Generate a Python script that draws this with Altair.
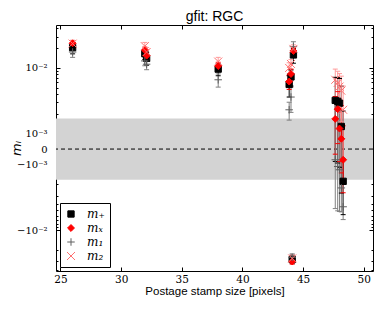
import math
import altair as alt
import pandas as pd

# ---- data ----
x_pos = [26.0, 31.95, 32.1, 38.0, 44.2, 44.0, 43.85, 44.1, 47.65, 47.85, 48.0, 48.15, 48.3]
m_plus = [0.0204, 0.0165, 0.0140, 0.0096, 0.0158, 0.0073, 0.0056, -0.028, 0.0032, 0.0031, 0.0029, 0.00128, -0.0018]
m_plus_err = [0.004, 0.003, 0.003, 0.002, 0.004, 0.002, 0.002, 0.004, 0.004, 0.004, 0.004, 0.004, 0.004]
m_cross = [0.0238, 0.0188, 0.0154, 0.0107, 0.0182, 0.0081, 0.0062, -0.030, 0.00167, 0.00235, 0.00119, 0.00066, -0.00069]
m_cross_err = [0.002, 0.002, 0.002, 0.0015, 0.002, 0.0015, 0.0015, 0.003, 0.002, 0.002, 0.002, 0.002, 0.002]
m_1 = [0.0175, 0.0128, 0.0114, 0.0066, 0.0211, 0.0036, 0.0023, -0.026, -0.00069, -0.00107, -0.0012, -0.00227, -0.0044]
m_1_err = [0.003, 0.002, 0.002, 0.0015, 0.004, 0.0015, 0.0007, 0.003, 0.004, 0.004, 0.004, 0.003, 0.0025]
m_2 = [0.0235, 0.0215, 0.0175, 0.0125, 0.0195, 0.0115, 0.0100, -0.027, 0.0066, 0.0059, 0.0052, 0.0045, 0.0023]
m_2_err = [0.003, 0.003, 0.003, 0.002, 0.003, 0.002, 0.002, 0.003, 0.003, 0.003, 0.003, 0.003, 0.003]

series_names = ["m₊", "mₓ", "m₁", "m₂"]
band_half = 0.0017
x_ticks = [25, 30, 35, 40, 45, 50]

# symlog parameters (matplotlib-like, linthresh 1e-3)
L = 1e-3
S = 0.237


def symlog_expr(field):
    a = f"abs({field})"
    return (f"({field} < 0 ? -1 : 1) * ({a} <= {L} ? {a} / {L} * {S} : "
            f"{S} + log({a} / {L}) / LN10)")


rows = []
for name, vals, errs in zip(series_names, [m_plus, m_cross, m_1, m_2],
                            [m_plus_err, m_cross_err, m_1_err, m_2_err]):
    for xv, v, e in zip(x_pos, vals, errs):
        rows.append({"series": name, "sb": name, "x": xv, "v": v, "lo": v - e, "hi": v + e})
df = pd.DataFrame(rows)

band_df = pd.DataFrame({"b0": [-band_half], "b1": [band_half], "z": [0.0]})

W, H = 317, 246
X_DOM = [24.63, 50.76]
Y_DOM = [-1.86, 1.892]
xs = alt.Scale(domain=X_DOM, nice=False, zero=False)
ys = alt.Scale(domain=Y_DOM, nice=False, zero=False)

major_T = [-(S + 1), -S, 0, S, S + 1]
minor_T = []
for k in range(2, 10):
    minor_T += [S + math.log10(k), -(S + math.log10(k))]
for k in range(2, 5):
    minor_T += [S + 1 + math.log10(k), -(S + 1 + math.log10(k))]

label_expr = ("datum.value > 1 ? '10⁻²' : datum.value > 0.1 ? '10⁻³' : "
              "datum.value > -0.1 ? '0' : datum.value > -1 ? '−10⁻³' : '−10⁻²'")

serif = "DejaVu Serif"
sans = "Liberation Sans"

# band with labelled axes
band = alt.Chart(band_df).transform_calculate(
    T0=symlog_expr("datum.b0"), T1=symlog_expr("datum.b1"),
    xa=str(X_DOM[0]), xb=str(X_DOM[1])
).mark_rect(color="#d3d3d3").encode(
    x=alt.X("xa:Q", scale=xs, axis=alt.Axis(values=x_ticks, ticks=False, domain=False, grid=False,
                                              labelFont=serif, labelFontSize=10.5, labelPadding=3,
                                              title="Postage stamp size [pixels]", titleFont=sans,
                                              titleFontSize=11.5, titleFontWeight="normal",
                                              titleY=20, titleBaseline="middle")),
    x2=alt.X2("xb:Q"),
    y=alt.Y("T0:Q", scale=ys, axis=alt.Axis(values=major_T, labelExpr=label_expr, ticks=False,
                                             domain=False, grid=False, labelFont=serif, labelFontSize=10,
                                             labelPadding=9, title="mᵢ", titleFont="DejaVu Sans",
                                             titleFontStyle="italic", titleFontSize=13,
                                             titleFontWeight="normal", titleAngle=-90,
                                             titleX=-40, titleY=H / 2, titleAlign="center",
                                             titleBaseline="middle")),
    y2="T1:Q",
)

# zero dashed line, carries inward major ticks on the left
zero = alt.Chart(band_df).transform_calculate(T=symlog_expr("datum.z")).mark_rule(
    color="black", strokeDash=[4, 3], strokeWidth=1
).encode(
    y=alt.Y("T:Q", scale=ys, axis=alt.Axis(values=major_T, labels=False, tickSize=4, offset=-4,
                                            domain=False, grid=False, title=None, orient="left",
                                            tickColor="black")),
)


def tick_layer(orient_y, orient_x, yvals, size, xvals=None):
    enc = dict(
        y=alt.Y("T:Q", scale=ys, axis=alt.Axis(values=yvals, labels=False, tickSize=size, offset=-size,
                                                domain=False, grid=False, title=None, orient=orient_y,
                                                tickColor="black")),
    )
    if xvals is not None:
        enc["x"] = alt.X("xa:Q", scale=xs, axis=alt.Axis(values=xvals, labels=False, tickSize=4, offset=-4,
                                                          domain=False, grid=False, title=None,
                                                          orient=orient_x, tickColor="black"))
    return alt.Chart(band_df).transform_calculate(T=symlog_expr("datum.z"), xa="-100").mark_point(
        opacity=0).encode(**enc)


t_bottom = tick_layer("right", "bottom", major_T, 4, x_ticks)
t_top = tick_layer("left", "top", minor_T, 2, x_ticks)
t_right_minor = tick_layer("right", "top", minor_T, 2)

bar_colors = ["#000000", "#ff0000", "#808080", "#ff9a9a"]
bar_scale = alt.Scale(domain=series_names, range=bar_colors)

bars = alt.Chart(df).transform_calculate(
    Tlo=symlog_expr("datum.lo"), Thi=symlog_expr("datum.hi")
).mark_rule(strokeWidth=1).encode(
    x=alt.X("x:Q", scale=xs, axis=None),
    y=alt.Y("Tlo:Q", scale=ys, axis=None),
    y2="Thi:Q",
    color=alt.Color("sb:N", scale=bar_scale, legend=None),
)


def caps(field):
    return alt.Chart(df).transform_calculate(Tc=symlog_expr(f"datum.{field}")).mark_point(
        shape="stroke", size=25, strokeWidth=1, opacity=1, filled=False
    ).encode(
        x=alt.X("x:Q", scale=xs, axis=None),
        y=alt.Y("Tc:Q", scale=ys, axis=None),
        color=alt.Color("sb:N", scale=bar_scale, legend=None),
    )


caps_lo = caps("lo")
caps_hi = caps("hi")

plus_path = "M-1,0L1,0M0,-1L0,1"
cross_path = "M-1,-1L1,1M-1,1L1,-1"
legend = alt.Legend(title=None, orient="bottom-left", offset=4, strokeColor="black", fillColor="white",
                    padding=5, labelFont=serif, labelFontStyle="italic", labelFontSize=12,
                    symbolStrokeWidth=1, rowPadding=2, labelOffset=10, cornerRadius=0)

points = alt.Chart(df).transform_calculate(T=symlog_expr("datum.v")).mark_point(
    opacity=1, strokeWidth=1
).encode(
    x=alt.X("x:Q", scale=xs, axis=None),
    y=alt.Y("T:Q", scale=ys, axis=None),
    shape=alt.Shape("series:N", scale=alt.Scale(domain=series_names,
                                                range=["square", "diamond", plus_path, cross_path]),
                    legend=legend),
    fill=alt.Fill("series:N", scale=alt.Scale(domain=series_names,
                                              range=["#000000", "#ff0000", "transparent", "transparent"]),
                  legend=legend),
    stroke=alt.Stroke("series:N", scale=alt.Scale(domain=series_names,
                                                  range=["#000000", "#ff0000", "#606060", "#ff7070"]),
                      legend=legend),
    size=alt.Size("series:N", scale=alt.Scale(domain=series_names, range=[40, 64, 80, 36]), legend=legend),
)

chart = alt.layer(band, zero, t_bottom, t_top, t_right_minor, bars, caps_lo, caps_hi, points).resolve_axis(
    x="independent", y="independent"
).resolve_scale(
    shape="independent", fill="independent", stroke="independent", size="independent"
).properties(
    width=W, height=H,
    title=alt.Title("gfit: RGC", font=sans, fontSize=14, fontWeight="normal", offset=1),
    autosize=alt.AutoSizeParams(type="none"),
    padding={"left": 48, "top": 17, "right": 5, "bottom": 30},
).configure_view(stroke="black", strokeWidth=1).configure_point(opacity=1)

chart.save("out.html", embed_options={"renderer": "svg", "actions": False})
